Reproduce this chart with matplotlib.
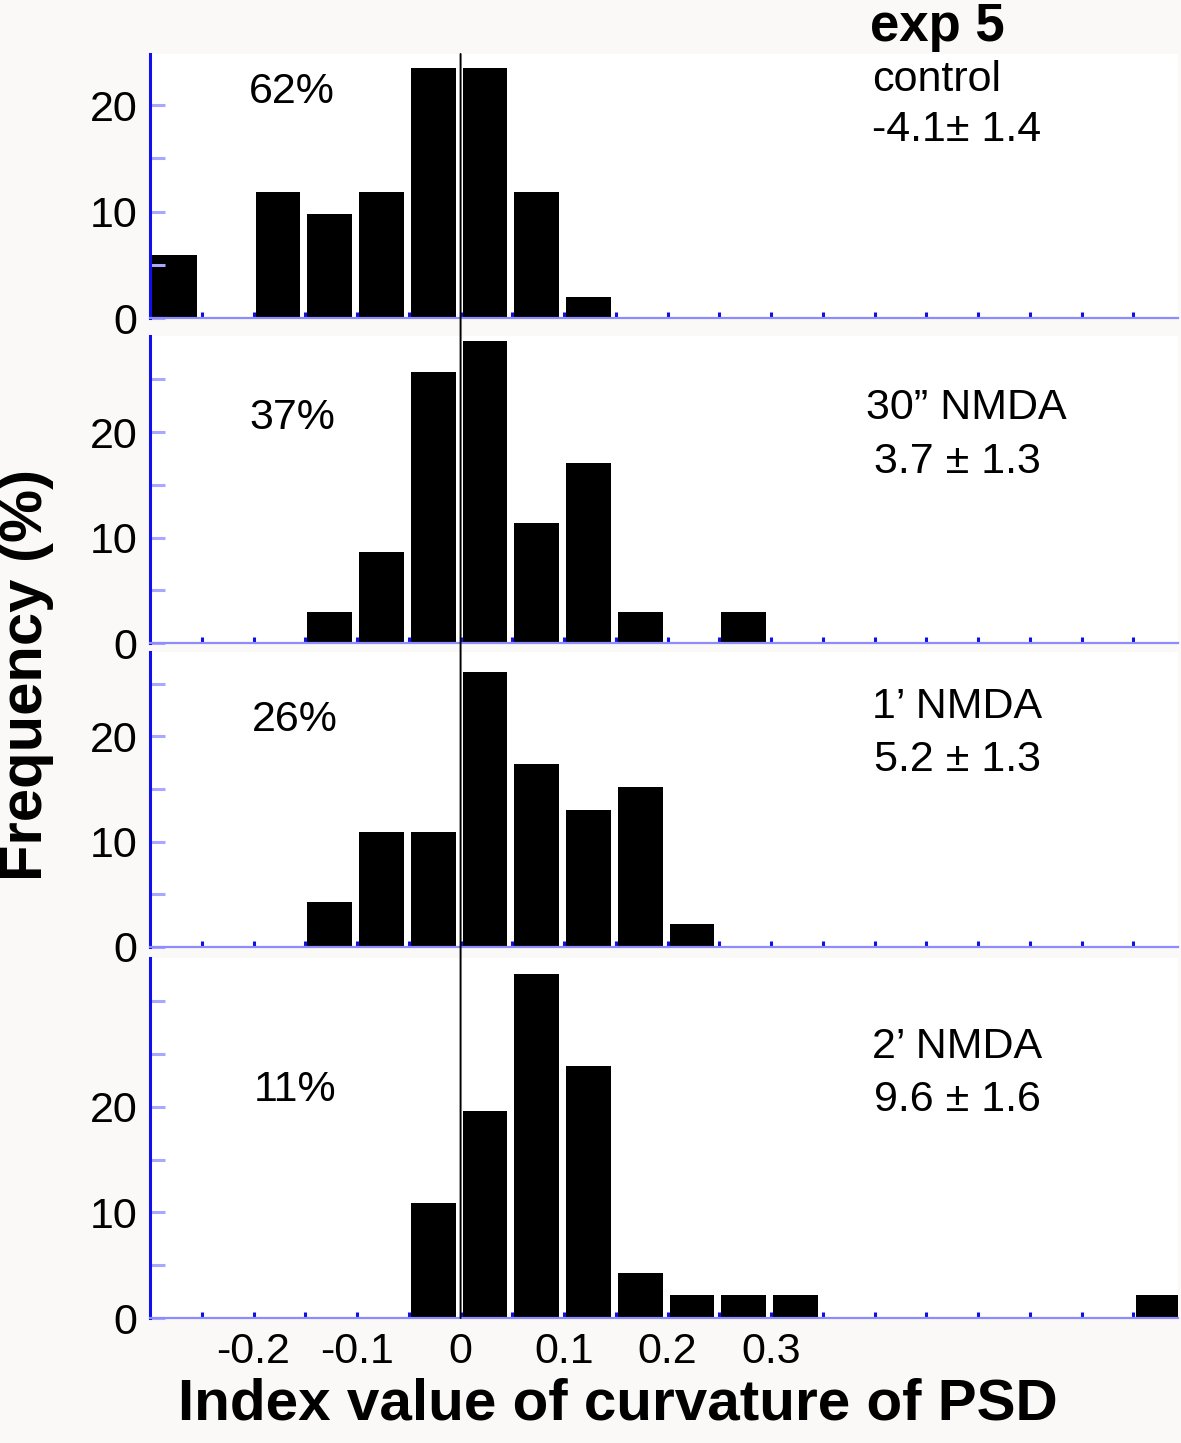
import numpy as np
import matplotlib
matplotlib.use("Agg")
import matplotlib.pyplot as plt
from matplotlib.patches import ConnectionPatch

plt.rcParams['font.family'] = ['Liberation Sans', 'DejaVu Sans']

# ---- data ----
bin_edges_left = [-0.30, -0.25, -0.20, -0.15, -0.10, -0.05, 0.00, 0.05, 0.10, 0.15,
                  0.20, 0.25, 0.30, 0.35, 0.40, 0.45, 0.50, 0.55, 0.60, 0.65]
control = [5.9, 0, 11.8, 9.8, 11.8, 23.5, 23.5, 11.8, 2.0, 0, 0, 0, 0, 0, 0, 0, 0, 0, 0, 0]
nmda_30s = [0, 0, 0, 2.9, 8.6, 25.7, 28.6, 11.4, 17.1, 2.9, 0, 2.9, 0, 0, 0, 0, 0, 0, 0, 0]
nmda_1m = [0, 0, 0, 4.3, 10.9, 10.9, 26.1, 17.4, 13.0, 15.2, 2.2, 0, 0, 0, 0, 0, 0, 0, 0, 0]
nmda_2m = [0, 0, 0, 0, 0, 10.9, 19.6, 32.6, 23.9, 4.3, 2.2, 2.2, 2.2, 0, 0, 0, 0, 0, 0, 2.2]
series = [control, nmda_30s, nmda_1m, nmda_2m]
percent_labels = ["62%", "37%", "26%", "11%"]
cond_labels = ["control", "30\u201d NMDA", "1\u2019 NMDA", "2\u2019 NMDA"]
stat_labels = ["-4.1\u00b1 1.4", "3.7 \u00b1 1.3", "5.2 \u00b1 1.3", "9.6 \u00b1 1.6"]
ytop = [24.8, 29.1, 28.0, 34.1]
y_major = [0, 10, 20]
y_minor = [[5, 15], [5, 15, 25], [5, 15, 25], [5, 15, 25, 30]]
x_major = [-0.2, -0.1, 0.0, 0.1, 0.2, 0.3]
x_major_labels = ["-0.2", "-0.1", "0", "0.1", "0.2", "0.3"]
x_minor = [-0.25, -0.15, -0.05, 0.05, 0.15, 0.25, 0.35, 0.40, 0.45, 0.50, 0.55, 0.60, 0.65]

W, H = 1181, 1443
fig = plt.figure(figsize=(W / 100, H / 100), dpi=100, facecolor='#faf9f8')

panels_px = [(54, 318), (336, 643), (652, 947), (958, 1318)]
left_px, right_px = 150, 1178

axes = []
for i, (t, b) in enumerate(panels_px):
    ax = fig.add_axes([left_px / W, 1 - b / H, (right_px - left_px) / W, (b - t) / H])
    ax.set_facecolor('white')
    ax.bar(np.array(bin_edges_left) + 0.002, series[i], width=0.0432, align='edge',
           color='black', edgecolor='none', zorder=1)
    ax.set_xlim(-0.3, 0.693)
    ax.set_ylim(0, ytop[i])
    for s in ['top', 'right']:
        ax.spines[s].set_visible(False)
    ax.spines['left'].set_color('#1010e8')
    ax.spines['left'].set_linewidth(2.2)
    ax.spines['bottom'].set_color('#8c8cff')
    ax.spines['bottom'].set_linewidth(1.6)
    ax.set_yticks(y_major)
    ax.set_yticklabels([str(v) for v in y_major])
    ax.set_yticks(y_minor[i], minor=True)
    ax.tick_params(axis='y', which='both', direction='in', length=11, width=2.2,
                   color='#a8a8ff', labelsize=31, pad=9, zorder=5)
    ax.set_xticks(x_major)
    ax.set_xticks(x_minor, minor=True)
    ax.tick_params(axis='x', which='both', direction='in', length=4, width=2.2,
                   color='#1010e0', labelsize=31, pad=10)
    if i < 3:
        ax.set_xticklabels([])
    else:
        ax.set_xticklabels(x_major_labels)
    axes.append(ax)

# vertical line at x = 0 through all panels
con = ConnectionPatch(xyA=(0, ytop[0]), coordsA=axes[0].transData,
                      xyB=(0, 0), coordsB=axes[3].transData,
                      color='black', lw=1.4, zorder=10)
fig.add_artist(con)

def fx(px):
    return px / W

def fy(py):
    return 1 - py / H

pct_pos = [(292, 92), (292, 418), (295, 720), (295, 1090)]
cond_pos = [(872, 80), (866, 408), (872, 707), (872, 1047)]
stat_pos = [(872, 130), (874, 462), (874, 760), (874, 1100)]
for i in range(4):
    fig.text(fx(pct_pos[i][0]), fy(pct_pos[i][1]), percent_labels[i], fontsize=31,
             ha='center', va='center')
    fig.text(fx(cond_pos[i][0]), fy(cond_pos[i][1]), cond_labels[i], fontsize=31,
             ha='left', va='center')
    fig.text(fx(stat_pos[i][0]), fy(stat_pos[i][1]), stat_labels[i], fontsize=31,
             ha='left', va='center')

fig.text(fx(870), fy(41), "exp 5", fontsize=38, fontweight='bold', ha='left', va='baseline')
fig.text(fx(27), fy(675), "Frequency (%)", fontsize=43, fontweight='bold',
         rotation=90, ha='center', va='center')
fig.text(fx(618), fy(1405), "Index value of curvature of PSD", fontsize=42,
         fontweight='bold', ha='center', va='center')

fig.savefig("out.png", dpi=100, facecolor=fig.get_facecolor())
